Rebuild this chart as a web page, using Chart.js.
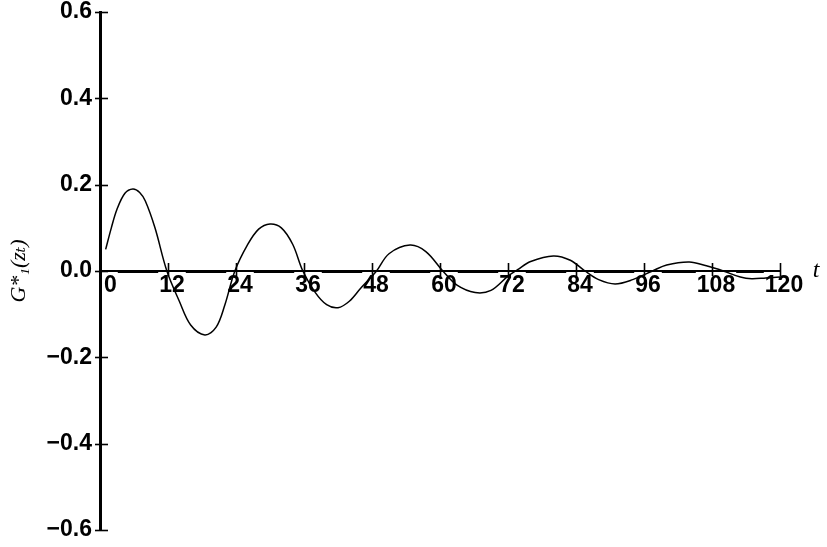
<!DOCTYPE html>
<html>
<head>
<meta charset="utf-8">
<script src="https://cdn.jsdelivr.net/npm/chart.js@4/dist/chart.umd.min.js"></script>
<style>
  html, body { margin: 0; padding: 0; background: #fff; }
  #wrap { width: 827px; height: 547px; position: relative; }
</style>
</head>
<body>
<div id="wrap"><canvas id="c" width="827" height="547"></canvas></div>
<script>
// Time lags t
const tValues = [1, 2, 3, 4.4, 5.8, 7, 8, 9.7, 11.8, 14, 16, 18.5, 20.5, 22, 23.8, 26, 28, 30, 32, 34, 35.8, 38, 40, 42, 44, 46, 48.8, 51, 54.7, 57.5, 60.5, 63, 66.2, 69, 72, 73.7, 76, 80, 83, 85.6, 88, 90.9, 94, 97.5, 100, 104, 107, 110, 113, 115, 117.5, 120];
// G1*(z_t) values
const gValues = [0.05, 0.10, 0.143, 0.18, 0.19, 0.182, 0.162, 0.10, 0.0, -0.07, -0.125, -0.148, -0.13, -0.08, 0.0, 0.06, 0.097, 0.109, 0.10, 0.062, 0.0, -0.05, -0.078, -0.085, -0.07, -0.04, 0.0, 0.04, 0.06, 0.045, 0.0, -0.033, -0.05, -0.045, -0.012, 0.003, 0.022, 0.035, 0.025, 0.0, -0.02, -0.03, -0.02, 0.0, 0.014, 0.021, 0.012, 0.0, -0.014, -0.018, -0.016, -0.014];
// Axis tick values
const xTickValues = [0, 12, 24, 36, 48, 60, 72, 84, 96, 108, 120];
const yTickValues = [-0.6, -0.4, -0.2, 0.0, 0.2, 0.4, 0.6];
const yTitle = 'G*\u2081(z\u209C)';
const xTitle = 't';

const points = tValues.map((t, i) => ({ x: t, y: gValues[i] }));

const tickFont = { family: "'Liberation Sans Narrow', 'Liberation Sans', Arial, sans-serif", size: 23, weight: 'bold' };

const axisDecor = {
  id: 'axisDecor',
  afterDraw(chart) {
    const ctx = chart.ctx;
    const xs = chart.scales.x, ys = chart.scales.y;
    const x0 = xs.getPixelForValue(0);
    const y0 = ys.getPixelForValue(0);
    ctx.save();
    ctx.strokeStyle = '#000';
    ctx.lineWidth = 1.6;
    xTickValues.forEach(v => {
      if (v === 0) return;
      const px = Math.round(xs.getPixelForValue(v)) + 0.5;
      ctx.beginPath();
      ctx.moveTo(px, y0 - 8);
      ctx.lineTo(px, y0 + 5);
      ctx.stroke();
    });
    yTickValues.forEach(v => {
      const py = Math.round(ys.getPixelForValue(v)) + 0.5;
      ctx.beginPath();
      ctx.moveTo(x0 - 5, py);
      ctx.lineTo(x0 + 8, py);
      ctx.stroke();
    });
    ctx.fillStyle = '#000';
    ctx.font = "italic 24px 'Liberation Serif', 'DejaVu Serif', serif";
    ctx.textAlign = 'center';
    ctx.textBaseline = 'alphabetic';
    ctx.fillText(xTitle, xs.right + 36, y0 + 6);
    ctx.restore();
  }
};

new Chart(document.getElementById('c'), {
  type: 'line',
  data: {
    datasets: [{
      data: points,
      borderColor: '#000',
      borderWidth: 1.5,
      pointRadius: 0,
      fill: false,
      tension: 0.35
    }]
  },
  options: {
    responsive: false,
    animation: false,
    layout: { padding: { top: 12, right: 47, bottom: 17, left: 0 } },
    plugins: { legend: { display: false }, tooltip: { enabled: false } },
    scales: {
      x: {
        type: 'linear',
        position: { y: 0 },
        min: 0, max: 120,
        z: 1,
        afterBuildTicks: (s) => { s.ticks = xTickValues.map(v => ({ value: v })); },
        afterFit: (s) => { s.paddingLeft = 0; s.paddingRight = 0; },
        grid: { display: false, drawTicks: false },
        border: { display: true, color: '#000', width: 3 },
        ticks: {
          color: '#000',
          font: tickFont,
          padding: 1,
          labelOffset: 4,
          maxRotation: 0,
          autoSkip: false,
          showLabelBackdrop: true,
          backdropColor: '#fff',
          backdropPadding: { top: 0, bottom: 0, left: 1, right: 1 },
          callback: (v) => v === 0 ? '  0' : String(v)
        }
      },
      y: {
        type: 'linear',
        position: 'left',
        min: -0.6, max: 0.6,
        z: 1,
        afterBuildTicks: (s) => { s.ticks = yTickValues.map(v => ({ value: v })); },
        afterFit: (s) => { s.width = 100; s.paddingTop = 0; s.paddingBottom = 0; },
        grid: { display: false, drawTicks: false },
        border: { display: true, color: '#000', width: 3 },
        title: {
          display: true,
          text: yTitle,
          color: '#000',
          font: { family: "'Liberation Serif', 'DejaVu Serif', serif", size: 22, style: 'italic' },
          padding: { top: 6, bottom: 0 }
        },
        ticks: {
          color: '#000',
          font: tickFont,
          padding: 8,
          callback: (v) => (v < 0 ? '\u2212' : '') + Math.abs(v).toFixed(1)
        }
      }
    }
  },
  plugins: [axisDecor]
});
</script>
</body>
</html>
